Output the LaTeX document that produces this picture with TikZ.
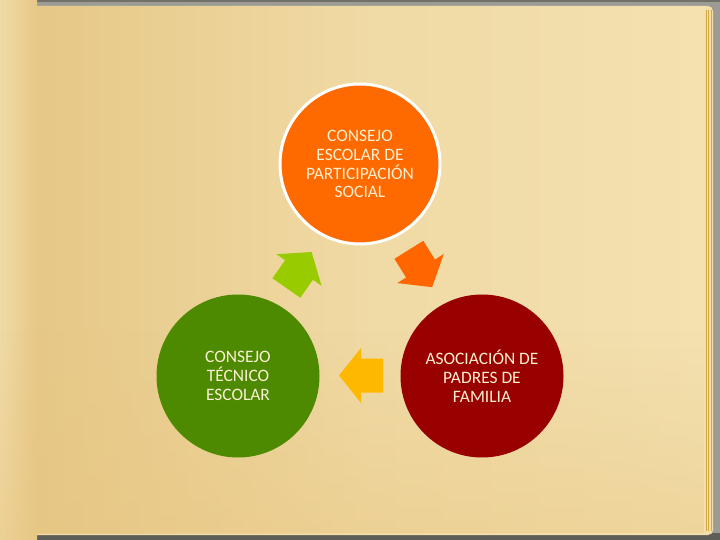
\documentclass[tikz,border=0pt]{standalone}
\usepackage{fontspec}
\setmainfont{Carlito}
\usetikzlibrary{fadings}
\definecolor{framegray}{HTML}{9C9C94}
\definecolor{framedark}{HTML}{5E5E58}
\definecolor{stackpaper}{HTML}{F3DFA5}
\definecolor{stackgold}{HTML}{D4A843}
\definecolor{paperlight}{HTML}{F3E1B0}
\definecolor{papermid}{HTML}{F0DAA5}
\definecolor{paperdark}{HTML}{E6C887}
\definecolor{papergold}{HTML}{E8C47E}
\definecolor{circorange}{HTML}{FF6A00}
\definecolor{circgreen}{HTML}{4E8A00}
\definecolor{circred}{HTML}{990000}
\definecolor{arrgreen}{HTML}{99CC00}
\definecolor{arrorange}{HTML}{FF6600}
\definecolor{arryellow}{HTML}{FFB800}
\definecolor{textcream}{HTML}{FAF0D2}
\tikzset{
  bubble/.style={circle, inner sep=0pt, minimum size=#1, align=center,
    text=textcream, font=\fontsize{17.5}{19}\selectfont},
  blockarrow/.pic={
    \fill[pic actions] (-22,-17) -- (0,-17) -- (0,-27.5) -- (22,0) -- (0,27.5) -- (0,17) -- (-22,17) -- cycle;
  }
}
\begin{document}
\begin{tikzpicture}[x=1bp,y=-1bp]
\useasboundingbox (0,0) rectangle (720,540);
% outer frame
\fill[framegray] (0,0) rectangle (720,540);
\fill[framedark] (30,533) rectangle (720,540);
\fill[framedark!70!framegray] (30,0) rectangle (720,2);
% page stack on the right
\fill[stackpaper, rounded corners=5bp] (30,6) rectangle (713,535);
\foreach \xx in {706,708.5,711}
  \draw[stackgold, line width=0.7bp] (\xx,10) -- (\xx,531);
% main page
\shade[left color=paperdark, right color=paperlight, middle color=papermid] (37,7) rectangle (705,533);
\fill[papergold, path fading=north, opacity=0.4] (37,330) rectangle (705,533);
% left binding strip
\shade[left color=papermid, right color=paperdark] (0,0) rectangle (37,540);
\fill[papergold, path fading=north, opacity=0.4] (0,330) rectangle (37,540);
% circles
\node[bubble=160bp, fill=circorange, draw=white, line width=3bp] (ceps) at (360,164)
  {CONSEJO\\ESCOLAR DE\\PARTICIPACIÓN\\SOCIAL};
\node[bubble=163bp, fill=circgreen] (cte) at (238,376)
  {CONSEJO\\TÉCNICO\\ESCOLAR};
\node[bubble=163bp, fill=circred] (apf) at (482,376)
  {ASOCIACIÓN DE\\PADRES DE\\FAMILIA};
% arrows
\coordinate (agreen) at (299,270);
\coordinate (aorange) at (420.5,268.5);
\coordinate (ayellow) at (361,375.5);
\pic[fill=arrgreen, rotate=55] at (agreen) {blockarrow};
\pic[fill=arrorange, rotate=-58] at (aorange) {blockarrow};
\pic[fill=arryellow, rotate=180] at (ayellow) {blockarrow};
\end{tikzpicture}
\end{document}
